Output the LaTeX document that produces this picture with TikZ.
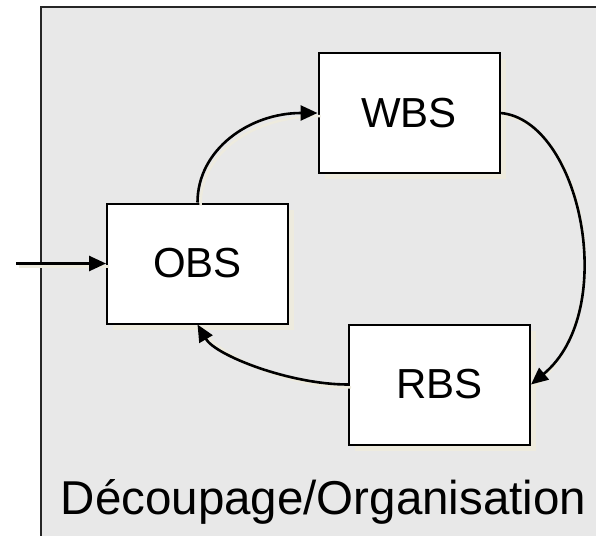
\documentclass[tikz,border=0pt]{standalone}
\usepackage{fontspec}
\setmainfont{Liberation Sans}
\usetikzlibrary{arrows.meta,shadows}
\definecolor{bgcol}{RGB}{232,232,232}
\definecolor{shadowcol}{RGB}{238,235,222}
\tikzset{
  boxnode/.style={draw=black, line width=2pt, fill=white, inner sep=0pt,
    minimum width=181pt, minimum height=120pt,
    font=\fontsize{42}{46}\selectfont,
    drop shadow={shadow xshift=6pt, shadow yshift=-6pt, fill=shadowcol, opacity=1}},
  conn/.style={line width=2.6pt, -{Triangle[length=17pt,width=15pt]},
    preaction={draw=shadowcol, line width=2.5pt, -, transform canvas={shift={(3pt,-3pt)}}}}
}
\begin{document}
\begin{tikzpicture}[x=1pt,y=-1pt]
\useasboundingbox (0,0) rectangle (596,535);
\clip (0,0) rectangle (596,535);
\draw[fill=bgcol, draw=black!85, line width=1.8pt] (41,7) rectangle (620,560);
\node[boxnode] (obs) at (197.5,263.5) {OBS};
\node[boxnode] (wbs) at (409,113) {WBS};
\node[boxnode] (rbs) at (439.5,384.5) {RBS};
\coordinate (in) at (16,263.5);
\draw[conn] (in) -- (obs.west);
\draw[conn] (obs.north) .. controls +(0,-53) and +(-68,0) .. (wbs.west);
\draw[conn] (wbs.east) .. controls +(80,7) and +(89,-74) .. (rbs.east);
\draw[conn] (rbs.west) .. controls +(-58,0) and +(18,31) .. (obs.south);
\node[anchor=base, font=\fontsize{47.5}{52}\selectfont] (lbl) at (323.5,514) {Découpage/Organisation};
\end{tikzpicture}
\end{document}
